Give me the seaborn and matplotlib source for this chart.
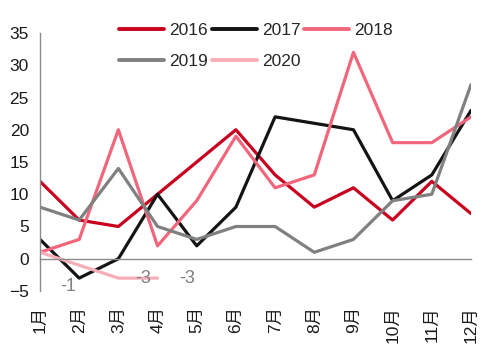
import matplotlib
matplotlib.use("Agg")
import matplotlib.pyplot as plt
import seaborn as sns
import pandas as pd

months = ["1月", "2月", "3月", "4月", "5月", "6月", "7月", "8月", "9月", "10月", "11月", "12月"]
y2016 = [12, 6, 5, 10, 15, 20, 13, 8, 11, 6, 12, 7]
y2017 = [3, -3, 0, 10, 2, 8, 22, 21, 20, 9, 13, 23]
y2018 = [1, 3, 20, 2, 9, 19, 11, 13, 32, 18, 18, 22]
y2019 = [8, 6, 14, 5, 3, 5, 5, 1, 3, 9, 10, 27]
y2020 = [1, -1, -3, -3]

series = {"2016": y2016, "2017": y2017, "2018": y2018, "2019": y2019, "2020": y2020}
colors = {"2016": "#C8001E", "2017": "#141414", "2018": "#F2667C",
          "2019": "#808080", "2020": "#F8AEB8"}

rows = []
for year, vals in series.items():
    for i, v in enumerate(vals):
        rows.append({"month": i + 1, "value": v, "year": year})
df = pd.DataFrame(rows)

sns.set_style("white")
plt.rcParams["font.family"] = ["Liberation Sans", "Noto Sans CJK SC"]

fig = plt.figure(figsize=(4.93, 3.46), dpi=100)
ax = fig.add_axes([40 / 493, 1 - 291 / 346, 431 / 493, 258 / 346])

sns.lineplot(data=df, x="month", y="value", hue="year", palette=colors,
             linewidth=2.3, ax=ax, legend=True)

ax.set_xlim(1, 12)
ax.set_ylim(-5, 35)
ax.set_yticks(range(-5, 36, 5))
ax.set_xticks(range(1, 13))
ax.set_xticklabels(months)
ax.set_xlabel("")
ax.set_ylabel("")

for s in ["top", "right"]:
    ax.spines[s].set_visible(False)
ax.spines["bottom"].set_position(("data", 0))
for s in ["left", "bottom"]:
    ax.spines[s].set_color("#8C8C8C")
    ax.spines[s].set_linewidth(1.0)
ax.tick_params(axis="both", direction="out", length=5, width=1.0,
               color="#8C8C8C", labelsize=12.5, labelcolor="#1A1A1A")
ax.tick_params(axis="x", labelrotation=90, pad=29)
ax.tick_params(axis="y", pad=3)

# data labels for 2020
label_offsets = {1: (-8, -15), 2: (18, 0), 3: (21, 0)}
for idx, (dx, dy) in label_offsets.items():
    ax.annotate(f"{y2020[idx]}", xy=(idx + 1, y2020[idx]), xytext=(dx, dy),
                textcoords="offset points", ha="center", va="center",
                fontsize=13, color="#808080")

handles, labels = ax.get_legend_handles_labels()
order = [labels.index(k) for k in ["2016", "2019", "2017", "2020", "2018"]]
leg = ax.legend([handles[i] for i in order], [labels[i] for i in order],
                loc="upper left", ncol=3, frameon=False,
                bbox_to_anchor=(103 / 493, 1 - 7 / 346),
                bbox_transform=fig.transFigure,
                handlelength=2.6, handletextpad=0.29, columnspacing=0.23,
                labelspacing=0.95, fontsize=12.5)
for line in leg.get_lines():
    line.set_linewidth(2.8)

fig.savefig("out.png", dpi=100)
